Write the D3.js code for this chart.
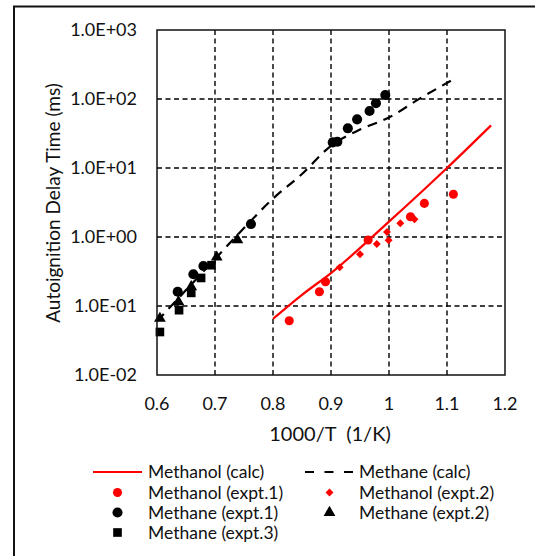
<!DOCTYPE html>
<html>
<head>
<meta charset="utf-8">
<script src="https://cdn.jsdelivr.net/npm/d3@7"></script>
<style>
  body { margin: 0; background: #fff; }
  svg { display: block; font-family: Lato, 'Liberation Sans', sans-serif; }
</style>
</head>
<body>
<div id="chart"></div>
<script>
// x = 1000/T (1/K), y = delay time (ms)
const methanolCalc = [[0.80, 0.065], [0.85, 0.145], [0.90, 0.30], [1.00, 1.67], [1.10, 10], [1.176, 41.5]]
const methaneCalc = [[0.60, 0.06], [0.65, 0.17], [0.70, 0.48], [0.75, 1.35], [0.80, 3.6], [0.85, 8.2], [0.90, 21], [0.95, 36], [1.00, 54], [1.05, 98], [1.112, 195]]
const methanolExpt1 = [[0.828, 0.061], [0.880, 0.161], [0.8905, 0.225], [0.964, 0.905], [1.037, 1.97], [1.061, 3.07], [1.111, 4.16]]
const methanolExpt2 = [[0.915, 0.363], [0.950, 0.561], [0.979, 0.79], [0.9965, 1.18], [0.9993, 0.895], [1.0195, 1.58], [1.044, 1.81]]
const methaneExpt1 = [[0.6357, 0.161], [0.6627, 0.288], [0.680, 0.38], [0.762, 1.54], [0.903, 23.5], [0.911, 24], [0.929, 37.6], [0.945, 50.7], [0.9665, 67], [0.9775, 87], [0.9936, 114]]
const methaneExpt2 = [[0.605, 0.066], [0.637, 0.115], [0.659, 0.19], [0.703, 0.51], [0.7386, 0.91]]
const methaneExpt3 = [[0.605, 0.042], [0.638, 0.087], [0.659, 0.155], [0.676, 0.255], [0.694, 0.39]]

const xTicks = [0.6, 0.7, 0.8, 0.9, 1.0, 1.1, 1.2]
const xTickLabels = ['0.6', '0.7', '0.8', '0.9', '1', '1.1', '1.2']
const yTicks = [1e-2, 1e-1, 1e0, 1e1, 1e2, 1e3]
const yTickLabels = ['1.0E-02', '1.0E-01', '1.0E+00', '1.0E+01', '1.0E+02', '1.0E+03']

const RED = '#ff0000'
const W = 535
const H = 556
const plot = { left: 157, right: 505, top: 30, bottom: 375 }

const svg = d3.select('#chart').append('svg')
  .attr('width', W)
  .attr('height', H)

// outer chart border (right/bottom run off the picture)
svg.append('rect')
  .attr('x', 14).attr('y', 6.5)
  .attr('width', 560).attr('height', 600)
  .attr('fill', 'none').attr('stroke', '#111').attr('stroke-width', 2)

const x = d3.scaleLinear().domain([0.6, 1.2]).range([plot.left, plot.right])
const y = d3.scaleLog().domain([1e-2, 1e3]).range([plot.bottom, plot.top])

// --- GRID ---
const grid = svg.append('g')
  .attr('stroke', '#000')
  .attr('stroke-width', 1.4)
  .attr('stroke-dasharray', '5,3.5')
grid.selectAll('.vg')
  .data(xTicks.slice(1, -1)).enter()
  .append('line')
  .attr('x1', d => x(d)).attr('x2', d => x(d))
  .attr('y1', plot.top).attr('y2', plot.bottom)
grid.selectAll('.hg')
  .data(yTicks.slice(1, -1)).enter()
  .append('line')
  .attr('x1', plot.left).attr('x2', plot.right)
  .attr('y1', d => y(d)).attr('y2', d => y(d))

// --- AXES (labels only, Excel-style) ---
svg.append('g').selectAll('text')
  .data(xTicks).enter()
  .append('text')
  .attr('x', d => x(d))
  .attr('y', 410)
  .attr('text-anchor', 'middle')
  .attr('font-size', 18)
  .attr('fill', '#111')
  .text((d, i) => xTickLabels[i])

svg.append('g').selectAll('text')
  .data(yTicks).enter()
  .append('text')
  .attr('x', 137)
  .attr('y', d => y(d) + 6)
  .attr('text-anchor', 'end')
  .attr('font-size', 18)
  .attr('fill', '#111')
  .text((d, i) => yTickLabels[i])

svg.append('text')
  .attr('x', 330).attr('y', 441)
  .attr('text-anchor', 'middle')
  .attr('font-size', 20)
  .attr('fill', '#111')
  .attr('xml:space', 'preserve')
  .text('1000/T  (1/K)')

svg.append('text')
  .attr('transform', 'translate(60,203) rotate(-90)')
  .attr('text-anchor', 'middle')
  .attr('font-size', 19)
  .attr('fill', '#111')
  .text('Autoignition Delay Time (ms)')

// --- LINES ---
const line = d3.line()
  .x(d => x(d[0]))
  .y(d => y(d[1]))
  .curve(d3.curveMonotoneX)

svg.append('path')
  .datum(methaneCalc)
  .attr('d', line)
  .attr('fill', 'none')
  .attr('stroke', '#000')
  .attr('stroke-width', 2.2)
  .attr('stroke-dasharray', '10,7')

svg.append('path')
  .datum(methanolCalc)
  .attr('d', line)
  .attr('fill', 'none')
  .attr('stroke', RED)
  .attr('stroke-width', 2.2)

// --- MARKERS ---
const sym = (type, size) => d3.symbol().type(type).size(size)()

function drawPoints (data, type, size, color) {
  svg.append('g').selectAll('path')
    .data(data).enter()
    .append('path')
    .attr('transform', d => `translate(${x(d[0])},${y(d[1])})`)
    .attr('d', sym(type, size))
    .attr('fill', color)
}

drawPoints(methaneExpt3, d3.symbolSquare, 75, '#000')
drawPoints(methaneExpt2, d3.symbolTriangle, 60, '#000')
drawPoints(methaneExpt1, d3.symbolCircle, 80, '#000')
drawPoints(methanolExpt2, d3.symbolDiamond2, 40, RED)
drawPoints(methanolExpt1, d3.symbolCircle, 65, RED)

// plot frame on top
svg.append('rect')
  .attr('x', plot.left).attr('y', plot.top)
  .attr('width', plot.right - plot.left)
  .attr('height', plot.bottom - plot.top)
  .attr('fill', 'none')
  .attr('stroke', '#111')
  .attr('stroke-width', 1.5)

// --- LEGEND ---
const legendItems = [
  { label: 'Methanol (calc)', kind: 'line', color: RED, col: 0, row: 0 },
  { label: 'Methane (calc)', kind: 'dash', color: '#000', col: 1, row: 0 },
  { label: 'Methanol (expt.1)', kind: d3.symbolCircle, size: 65, color: RED, col: 0, row: 1 },
  { label: 'Methanol (expt.2)', kind: d3.symbolDiamond2, size: 40, color: RED, col: 1, row: 1 },
  { label: 'Methane (expt.1)', kind: d3.symbolCircle, size: 80, color: '#000', col: 0, row: 2 },
  { label: 'Methane (expt.2)', kind: d3.symbolTriangle, size: 60, color: '#000', col: 1, row: 2 },
  { label: 'Methane (expt.3)', kind: d3.symbolSquare, size: 75, color: '#000', col: 0, row: 3 }
]
const colX = [93, 305]
const textX = [148, 359]
const rowY = [472, 492.5, 512.5, 532.5]

const lg = svg.append('g')
legendItems.forEach(it => {
  const cy = rowY[it.row]
  const x0 = colX[it.col]
  if (it.kind === 'line' || it.kind === 'dash') {
    lg.append('line')
      .attr('x1', x0).attr('x2', x0 + 49)
      .attr('y1', cy).attr('y2', cy)
      .attr('stroke', it.color)
      .attr('stroke-width', 2.2)
      .attr('stroke-dasharray', it.kind === 'dash' ? '9,10.5' : null)
  } else {
    lg.append('path')
      .attr('transform', `translate(${x0 + 24.5},${cy})`)
      .attr('d', sym(it.kind, it.size))
      .attr('fill', it.color)
  }
  lg.append('text')
    .attr('x', textX[it.col])
    .attr('y', cy + 6)
    .attr('font-size', 17.5)
    .attr('fill', '#111')
    .text(it.label)
})
</script>
</body>
</html>
